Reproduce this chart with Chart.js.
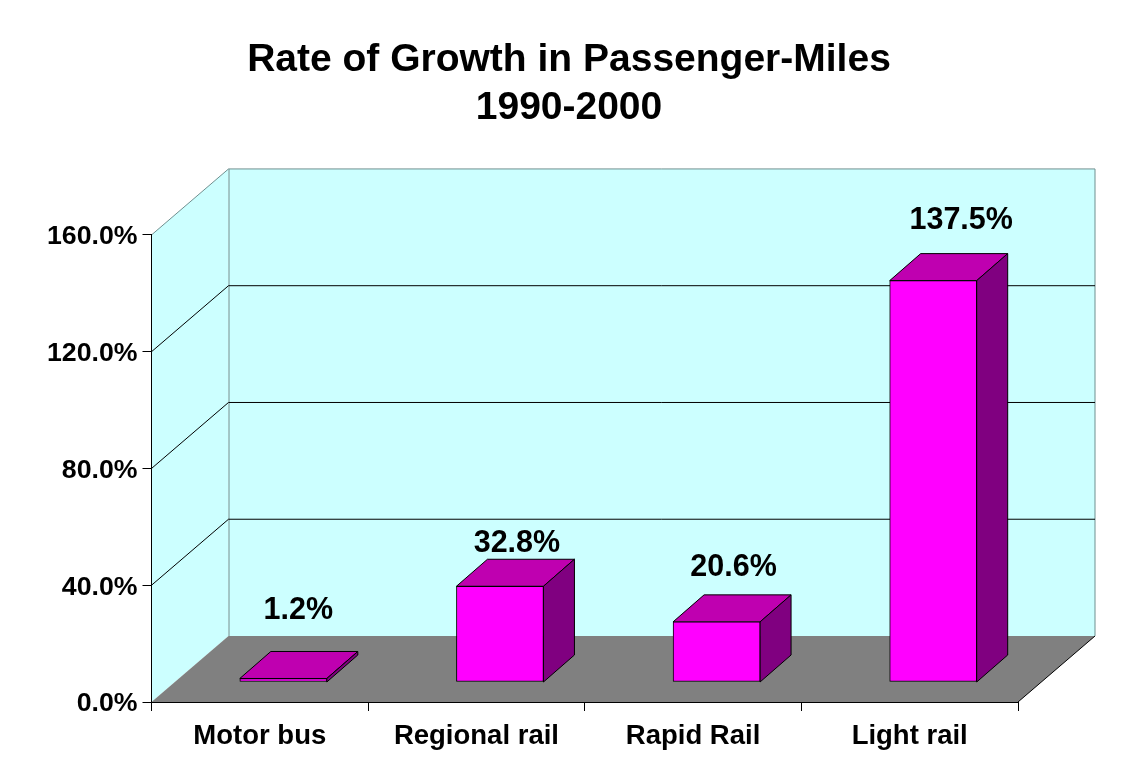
<!DOCTYPE html>
<html>
<head>
<meta charset="utf-8">
<title>Rate of Growth in Passenger-Miles</title>
<script src="https://cdn.jsdelivr.net/npm/chart.js@4"></script>
<style>
html, body { margin: 0; padding: 0; background: #fff; }
canvas { display: block; }
</style>
</head>
<body>
<canvas id="chart" width="1138" height="778"></canvas>
<script>
// values
const categories = ['Motor bus', 'Regional rail', 'Rapid Rail', 'Light rail'];
const growth = [1.2, 32.8, 20.6, 137.5];
const valueLabels = ['1.2%', '32.8%', '20.6%', '137.5%'];
const yTicks = [0, 40, 80, 120, 160];

// fake 3D depth
const wallDx = 77, wallDy = -66;    // front plane to back wall
const barDx = 23.5, barDy = -20;    // front plane to bar front face
const depthDx = 31, depthDy = -27;  // bar front face to bar back
const barWidth = 87;
// hand placed labels, relative to the top centre of each bar's front face
const labelNudge = [[15, -68], [17, -43], [17, -54], [28, -60]];

function poly(ctx, pts, fill, stroke) {
    ctx.beginPath();
    pts.forEach((p, i) => i ? ctx.lineTo(p[0], p[1]) : ctx.moveTo(p[0], p[1]));
    ctx.closePath();
    ctx.fillStyle = fill;
    ctx.fill();
    if (stroke) {
        ctx.strokeStyle = stroke;
        ctx.lineWidth = 1;
        ctx.stroke();
    }
}

function line(ctx, x1, y1, x2, y2, color) {
    ctx.beginPath();
    ctx.moveTo(x1, y1);
    ctx.lineTo(x2, y2);
    ctx.strokeStyle = color;
    ctx.lineWidth = 1;
    ctx.stroke();
}

const box3d = {
    id: 'box3d',
    // title is centred on the whole page, not on the plot
    afterLayout(chart) {
        chart.titleBlock.left = 0;
        chart.titleBlock.right = chart.width;
    },
    // walls and floor go under the axes
    beforeDraw(chart) {
        const { ctx, chartArea: a, scales: { y } } = chart;
        const edge = '#6f8f8f';

        // tick labels sit a little under their tick marks
        y.getLabelItems(a).forEach(item => { item.options.translation[1] += 2; });

        ctx.save();
        poly(ctx, [[a.left + wallDx, a.top + wallDy], [a.right + wallDx, a.top + wallDy],
            [a.right + wallDx, a.bottom + wallDy], [a.left + wallDx, a.bottom + wallDy]], '#ccffff');
        poly(ctx, [[a.left, a.top], [a.left + wallDx, a.top + wallDy],
            [a.left + wallDx, a.bottom + wallDy], [a.left, a.bottom]], '#ccffff');
        poly(ctx, [[a.left, a.bottom], [a.left + wallDx, a.bottom + wallDy],
            [a.right + wallDx, a.bottom + wallDy], [a.right, a.bottom]], '#808080');

        // wall outline
        line(ctx, a.left, a.top, a.left + wallDx, a.top + wallDy, edge);
        line(ctx, a.left + wallDx, a.top + wallDy, a.right + wallDx, a.top + wallDy, edge);
        line(ctx, a.right + wallDx, a.top + wallDy, a.right + wallDx, a.bottom + wallDy, edge);
        line(ctx, a.left + wallDx + 0.5, a.top + wallDy, a.left + wallDx + 0.5, a.bottom + wallDy, edge);
        line(ctx, a.right, a.bottom, a.right + wallDx, a.bottom + wallDy, '#000');

        // grid lines round the walls
        yTicks.slice(1, -1).forEach(v => {
            const py = y.getPixelForValue(v);
            line(ctx, a.left, py, a.left + wallDx, py + wallDy, '#000');
            line(ctx, a.left + wallDx, py + wallDy, a.right + wallDx, py + wallDy, '#000');
        });
        ctx.restore();
    },
    // top and side of every bar, then shift the library's bars off the front plane
    beforeDatasetDraw(chart) {
        const { ctx, scales: { x, y } } = chart;
        ctx.save();
        growth.forEach((v, i) => {
            const l = x.getPixelForValue(i) - barWidth / 2 + barDx;
            const r = l + barWidth;
            const t = y.getPixelForValue(v) + barDy;
            const b = y.getPixelForValue(0) + barDy;
            poly(ctx, [[l, t], [l + depthDx, t + depthDy], [r + depthDx, t + depthDy], [r, t]], '#bf00b0', '#000');
            poly(ctx, [[r, t], [r + depthDx, t + depthDy], [r + depthDx, b + depthDy], [r, b]], '#800080', '#000');
        });
        ctx.restore();
        ctx.save();
        ctx.translate(barDx, barDy);
    },
    afterDatasetDraw(chart) {
        chart.ctx.restore();
    },
    afterDraw(chart) {
        const { ctx, scales: { x, y } } = chart;
        ctx.save();
        ctx.font = 'bold 30.5px "Liberation Sans", Arial, sans-serif';
        ctx.fillStyle = '#000';
        ctx.textAlign = 'center';
        ctx.textBaseline = 'middle';
        valueLabels.forEach((txt, i) => {
            ctx.fillText(txt,
                x.getPixelForValue(i) + barDx + labelNudge[i][0],
                y.getPixelForValue(growth[i]) + barDy + labelNudge[i][1]);
        });
        ctx.restore();
    }
};

new Chart(document.getElementById('chart'), {
    type: 'bar',
    data: {
        labels: categories,
        datasets: [{
            data: growth,
            backgroundColor: '#ff00ff',
            borderColor: '#000',
            borderWidth: 1,
            borderSkipped: false,
            barThickness: barWidth,
            clip: false
        }]
    },
    options: {
        responsive: false,
        animation: false,
        layout: { padding: { left: 0, right: 120, top: 0, bottom: 0 } },
        plugins: {
            legend: { display: false },
            tooltip: { enabled: false },
            title: {
                display: true,
                text: ['Rate of Growth in Passenger-Miles', '1990-2000'],
                color: '#000',
                font: { family: '"Liberation Sans", Arial, sans-serif', size: 39, weight: 'bold', lineHeight: 1.23 },
                padding: { top: 36, bottom: 103 }
            }
        },
        scales: {
            x: {
                afterFit: s => { s.height = 76; },
                border: { color: '#000', width: 1 },
                grid: { drawOnChartArea: false, color: '#000', tickLength: 9 },
                ticks: {
                    color: '#000',
                    padding: 9,
                    maxRotation: 0,
                    font: { family: '"Liberation Sans", Arial, sans-serif', size: 27.5, weight: 'bold' }
                }
            },
            y: {
                min: 0,
                max: 160,
                afterFit: s => { s.width = 151.5; },
                afterBuildTicks: s => { s.ticks = yTicks.map(v => ({ value: v })); },
                border: { color: '#000', width: 1 },
                grid: { drawOnChartArea: false, color: '#000', tickLength: 9 },
                ticks: {
                    color: '#000',
                    padding: 5,
                    callback: v => v.toFixed(1) + '%',
                    font: { family: '"Liberation Sans", Arial, sans-serif', size: 26.7, weight: 'bold' }
                }
            }
        }
    },
    plugins: [box3d]
});
</script>
</body>
</html>
